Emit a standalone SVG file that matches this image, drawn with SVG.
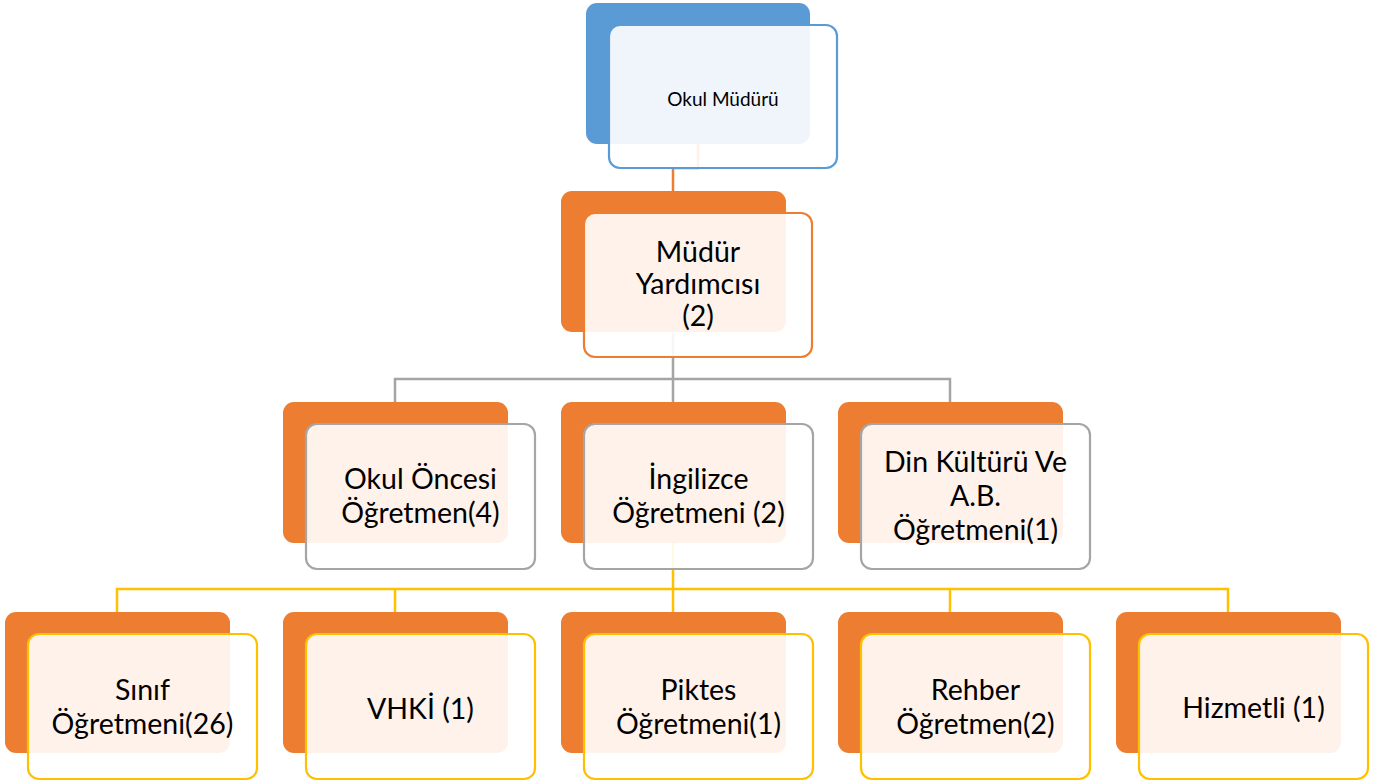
<svg xmlns="http://www.w3.org/2000/svg" width="1379" height="784" viewBox="0 0 1379 784">
<style>
  .bg{fill:#FFFFFF}
  .back-blue{fill:#5B9BD5}
  .back{fill:#ED7D31}
  .front{fill:#FFFFFF;fill-opacity:0.9;stroke-width:2.2}
  .s-blue{stroke:#5B9BD5}
  .s-orange{stroke:#ED7D31}
  .s-gray{stroke:#A5A5A5}
  .s-yellow{stroke:#FFC000}
  .conn{fill:none;stroke-width:2.5}
  text{font-family:Lato,"Liberation Sans",sans-serif;font-size:28.5px;fill:#000000;text-anchor:middle}
  .small{font-size:19px}
</style>
<rect class="bg" x="0" y="0" width="1379" height="784"/>
<g id="connectors">
  <path class="conn s-orange" d="M698,144 V168 H673 V191"/>
  <path class="conn s-gray" d="M673,333 V402 M395,402 V379 H950 V402"/>
  <path class="conn s-yellow" d="M673,543 V612 M117,612 V589 H1228 V612 M395,589 V612 M950,589 V612"/>
</g>
<g id="node-okul-muduru">
  <rect class="back-blue" x="586" y="3" width="224" height="141" rx="11"/>
  <rect class="front s-blue" x="609" y="25" width="228" height="143" rx="11"/>
  <text class="small" x="723" y="106">Okul Müdürü</text>
</g>
<g id="node-mudur-yardimcisi">
  <rect class="back" x="561" y="191" width="225" height="141" rx="11"/>
  <rect class="front s-orange" x="584" y="213" width="228" height="144" rx="11"/>
  <text x="698" y="262">Müdür</text>
  <text x="698" y="294">Yardımcısı</text>
  <text x="698" y="326">(2)</text>
</g>
<g id="node-okul-oncesi">
  <rect class="back" x="283" y="402" width="225" height="141" rx="11"/>
  <rect class="front s-gray" x="306" y="424" width="229" height="145" rx="11"/>
  <text x="420.5" y="489">Okul Öncesi</text>
  <text x="420.5" y="523">Öğretmen(4)</text>
</g>
<g id="node-ingilizce">
  <rect class="back" x="561" y="402" width="225" height="141" rx="11"/>
  <rect class="front s-gray" x="584" y="424" width="229" height="145" rx="11"/>
  <text x="698.5" y="489">İngilizce</text>
  <text x="698.5" y="523">Öğretmeni (2)</text>
</g>
<g id="node-din-kulturu">
  <rect class="back" x="838" y="402" width="225" height="141" rx="11"/>
  <rect class="front s-gray" x="861" y="424" width="229" height="145" rx="11"/>
  <text x="975.5" y="472">Din Kültürü Ve</text>
  <text x="975.5" y="506">A.B.</text>
  <text x="975.5" y="540">Öğretmeni(1)</text>
</g>
<g id="node-sinif">
  <rect class="back" x="5" y="612" width="225" height="141" rx="11"/>
  <rect class="front s-yellow" x="28" y="634" width="229" height="145" rx="11"/>
  <text x="142.5" y="700">Sınıf</text>
  <text x="142.5" y="734">Öğretmeni(26)</text>
</g>
<g id="node-vhki">
  <rect class="back" x="283" y="612" width="225" height="141" rx="11"/>
  <rect class="front s-yellow" x="306" y="634" width="229" height="145" rx="11"/>
  <text x="420.5" y="719">VHKİ (1)</text>
</g>
<g id="node-piktes">
  <rect class="back" x="561" y="612" width="225" height="141" rx="11"/>
  <rect class="front s-yellow" x="584" y="634" width="229" height="145" rx="11"/>
  <text x="698.5" y="700">Piktes</text>
  <text x="698.5" y="734">Öğretmeni(1)</text>
</g>
<g id="node-rehber">
  <rect class="back" x="838" y="612" width="225" height="141" rx="11"/>
  <rect class="front s-yellow" x="861" y="634" width="229" height="145" rx="11"/>
  <text x="975.5" y="700">Rehber</text>
  <text x="975.5" y="734">Öğretmen(2)</text>
</g>
<g id="node-hizmetli">
  <rect class="back" x="1116" y="612" width="225" height="141" rx="11"/>
  <rect class="front s-yellow" x="1139" y="634" width="229" height="145" rx="11"/>
  <text x="1253.5" y="718">Hizmetli (1)</text>
</g>
</svg>
